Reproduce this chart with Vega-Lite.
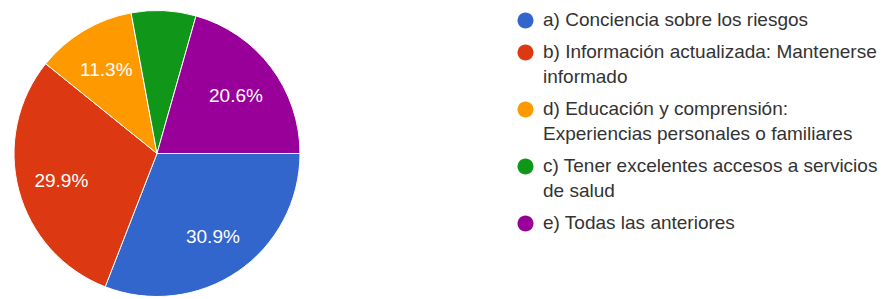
{
  "$schema": "https://vega.github.io/schema/vega-lite/v6.json",
  "width": 314,
  "height": 291,
  "autosize": {"type": "none"},
  "padding": {"left": 0, "top": 8, "right": 573, "bottom": 0},
  "background": "white",
  "config": {
    "view": {"stroke": null},
    "font": "Liberation Sans",
    "style": {"guide-label": {"lineHeight": 25}}
  },
  "data": {
    "values": [
      {"order": 1, "option": "a) Conciencia sobre los riesgos", "pct": 30.9, "label": "30.9%"},
      {"order": 2, "option": "b) Información actualizada: Mantenerse\ninformado", "pct": 29.9, "label": "29.9%"},
      {"order": 3, "option": "d) Educación y comprensión:\nExperiencias personales o familiares", "pct": 11.3, "label": "11.3%"},
      {"order": 4, "option": "c) Tener excelentes accesos a servicios\nde salud", "pct": 7.3, "label": ""},
      {"order": 5, "option": "e) Todas las anteriores", "pct": 20.6, "label": "20.6%"}
    ]
  },
  "encoding": {
    "theta": {"field": "pct", "type": "quantitative", "stack": true, "scale": {"range": [1.5708, 7.854]}},
    "order": {"field": "order", "type": "quantitative"},
    "color": {
      "field": "option",
      "type": "nominal",
      "sort": {"field": "order"},
      "scale": {
        "domain": [
          "a) Conciencia sobre los riesgos",
          "b) Información actualizada: Mantenerse\ninformado",
          "d) Educación y comprensión:\nExperiencias personales o familiares",
          "c) Tener excelentes accesos a servicios\nde salud",
          "e) Todas las anteriores"
        ],
        "range": ["#3366cc", "#dc3912", "#ff9900", "#109618", "#990099"]
      },
      "legend": {
        "title": null,
        "orient": "none",
        "legendX": 516,
        "legendY": -7,
        "symbolType": "M-1,1.25A1,1,0,1,1,1,1.25A1,1,0,1,1,-1,1.25Z",
        "symbolSize": 256,
        "symbolStrokeWidth": 0,
        "symbolOpacity": 1,
        "labelFontSize": 19,
        "labelColor": "#333333",
        "labelFont": "Liberation Sans",
        "labelOffset": 8,
        "labelLimit": 400,
        "labelBaseline": "top",
        "labelLineHeight": 25,
        "labelExpr": "split(datum.label, '\\n')",
        "rowPadding": 3
      }
    }
  },
  "layer": [
    {
      "mark": {"type": "arc", "outerRadius": 143, "stroke": "white", "strokeWidth": 1}
    },
    {
      "mark": {"type": "text", "radius": 99, "dy": 2, "fontSize": 19, "fill": "white", "font": "Liberation Sans"},
      "encoding": {
        "text": {"field": "label", "type": "nominal"},
        "color": {"value": "white"}
      }
    }
  ]
}
